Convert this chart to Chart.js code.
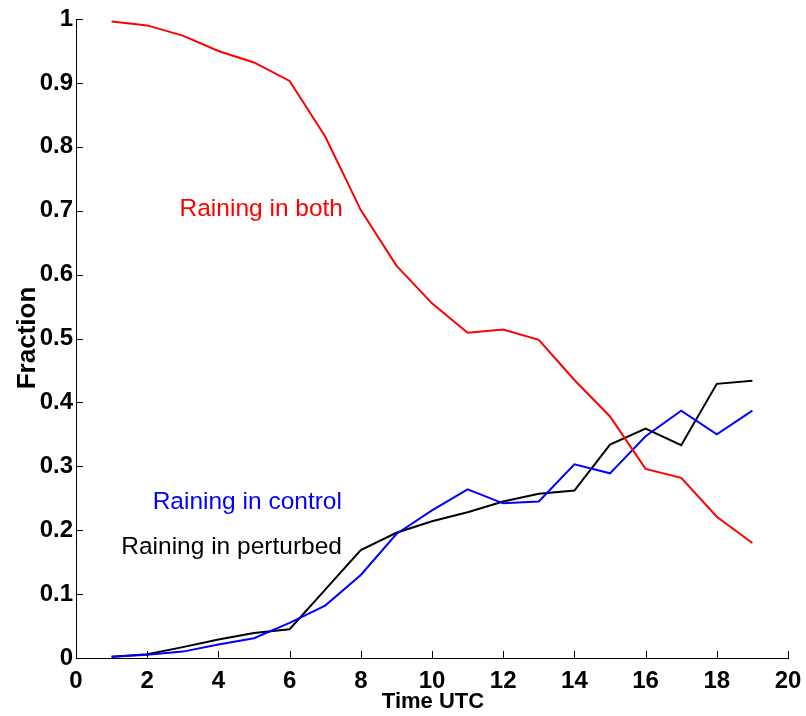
<!DOCTYPE html>
<html>
<head>
<meta charset="utf-8">
<script src="https://cdn.jsdelivr.net/npm/chart.js@4/dist/chart.umd.min.js"></script>
<style>
  html, body { margin: 0; padding: 0; background: #fff; }
  #wrap { width: 806px; height: 716px; }
</style>
</head>
<body>
<div id="wrap"><canvas id="c" width="806" height="716"></canvas></div>
<script>
// ---- data ----
const timesUTC = [1, 2, 3, 4, 5, 6, 7, 8, 9, 10, 11, 12, 13, 14, 15, 16, 17, 18, 19];
const rainingBoth = [0.996, 0.990, 0.974, 0.950, 0.932, 0.903, 0.816, 0.701, 0.614, 0.555, 0.509, 0.514, 0.498, 0.435, 0.378, 0.296, 0.282, 0.221, 0.180];
const rainingControl = [0.002, 0.005, 0.010, 0.021, 0.031, 0.055, 0.082, 0.130, 0.194, 0.231, 0.264, 0.242, 0.245, 0.303, 0.289, 0.347, 0.387, 0.350, 0.387];
const rainingPerturbed = [0.002, 0.006, 0.017, 0.029, 0.039, 0.045, 0.107, 0.169, 0.196, 0.214, 0.228, 0.245, 0.257, 0.262, 0.334, 0.359, 0.333, 0.429, 0.434];
const xTickValues = [0, 2, 4, 6, 8, 10, 12, 14, 16, 18, 20];
const yTickValues = [0, 0.1, 0.2, 0.3, 0.4, 0.5, 0.6, 0.7, 0.8, 0.9, 1];
const yTickLabels = ['0', '0.1', '0.2', '0.3', '0.4', '0.5', '0.6', '0.7', '0.8', '0.9', '1'];
const seriesNames = ['Raining in both', 'Raining in control', 'Raining in perturbed'];
const xTitle = 'Time UTC';
const yTitle = 'Fraction';
// text label anchors (data coordinates)
const labelAnchors = [
  { x: 7.5, y: 0.703 },
  { x: 7.47, y: 0.244 },
  { x: 7.47, y: 0.174 }
];

const colors = ['#ff0000', '#0000ff', '#000000'];
const tickFont = { family: '"Liberation Sans", Arial, sans-serif', size: 24, weight: 'bold' };

function toPoints(vals) { return timesUTC.map((t, i) => ({ x: t, y: vals[i] })); }

const decorPlugin = {
  id: 'decor',
  afterDraw(chart) {
    const ctx = chart.ctx;
    const xs = chart.scales.x, ys = chart.scales.y;
    const area = chart.chartArea;
    ctx.save();
    // inward tick marks
    ctx.strokeStyle = '#000';
    ctx.lineWidth = 1;
    ctx.beginPath();
    xTickValues.forEach(v => {
      const px = Math.round(xs.getPixelForValue(v)) + 0.5;
      ctx.moveTo(px, area.bottom);
      ctx.lineTo(px, area.bottom - 7);
    });
    yTickValues.forEach(v => {
      const py = Math.round(ys.getPixelForValue(v)) + 0.5;
      ctx.moveTo(area.left, py);
      ctx.lineTo(area.left + 7, py);
    });
    ctx.stroke();

    // series labels
    ctx.font = '24.5px "Liberation Sans", Arial, sans-serif';
    ctx.textAlign = 'right';
    ctx.textBaseline = 'middle';
    seriesNames.forEach((name, i) => {
      ctx.fillStyle = colors[i];
      ctx.fillText(name, xs.getPixelForValue(labelAnchors[i].x), ys.getPixelForValue(labelAnchors[i].y));
    });

    // axis titles
    ctx.fillStyle = '#000';
    ctx.textAlign = 'center';
    ctx.font = 'bold 22px "Liberation Sans", Arial, sans-serif';
    ctx.fillText(xTitle, 433, 702);
    ctx.translate(28, 338);
    ctx.rotate(-Math.PI / 2);
    ctx.font = 'bold 26px "Liberation Sans", Arial, sans-serif';
    ctx.fillText(yTitle, 0, 0);
    ctx.restore();
  }
};

new Chart(document.getElementById('c'), {
  type: 'line',
  data: {
    datasets: [rainingBoth, rainingControl, rainingPerturbed].map((vals, i) => ({
      label: seriesNames[i],
      data: toPoints(vals),
      borderColor: colors[i],
      backgroundColor: colors[i],
      borderWidth: 2,
      pointRadius: 0,
      tension: 0,
      fill: false
    }))
  },
  options: {
    responsive: false,
    animation: false,
    events: [],
    layout: { padding: { top: 19, right: 18, bottom: 0, left: 0 } },
    plugins: { legend: { display: false }, tooltip: { enabled: false } },
    scales: {
      x: {
        type: 'linear',
        min: 0, max: 20,
        afterBuildTicks(scale) { scale.ticks = xTickValues.map(v => ({ value: v })); },
        afterFit(scale) { scale.height = 58; scale.paddingLeft = 0; scale.paddingRight = 0; },
        grid: { display: true, drawOnChartArea: false, drawTicks: false },
        border: { display: true, color: '#000', width: 1 },
        ticks: { color: '#000', font: tickFont, padding: 9, maxRotation: 0, autoSkip: false,
                 callback: (v) => String(v) }
      },
      y: {
        type: 'linear',
        min: 0, max: 1,
        afterBuildTicks(scale) { scale.ticks = yTickValues.map(v => ({ value: v })); },
        afterFit(scale) { scale.width = 76; scale.paddingTop = 0; scale.paddingBottom = 0; },
        grid: { display: true, drawOnChartArea: false, drawTicks: false },
        border: { display: true, color: '#000', width: 1 },
        ticks: { color: '#000', font: tickFont, padding: 3, autoSkip: false,
                 callback: (v) => { const i = yTickValues.findIndex(t => Math.abs(t - v) < 1e-9); return i >= 0 ? yTickLabels[i] : ''; } }
      }
    }
  },
  plugins: [decorPlugin]
});
</script>
</body>
</html>
